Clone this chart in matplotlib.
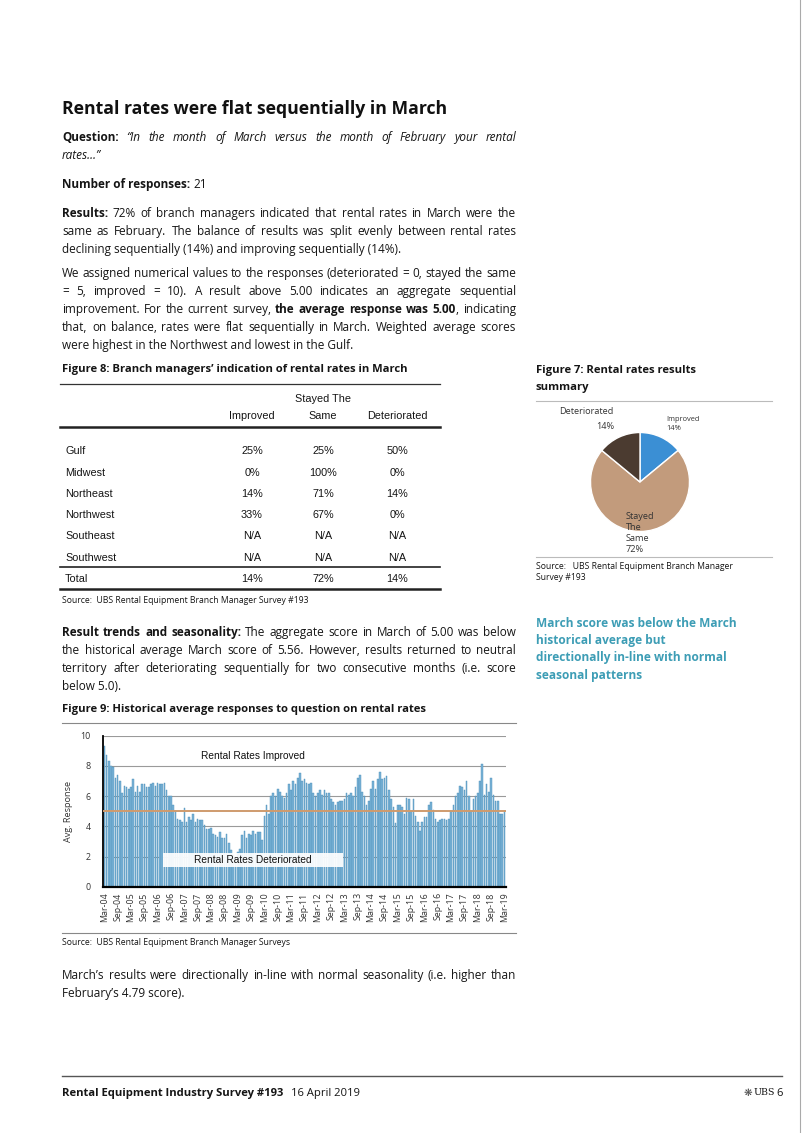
import numpy as np
import matplotlib
matplotlib.use('Agg')
import matplotlib.pyplot as plt
from matplotlib import font_manager

# ---- data ----
scores = [
    9.3, 8.7, 8.3, 8.0, 7.9, 7.2,   # Mar-04
    7.4, 7.0, 6.2, 6.7, 6.6, 6.5,   # Sep-04
    6.6, 7.1, 6.3, 6.7, 6.3, 6.8,   # Mar-05
    6.8, 6.6, 6.6, 6.8, 6.9, 6.7,   # Sep-05
    6.9, 6.8, 6.8, 6.9, 6.4, 6.0,   # Mar-06
    6.0, 5.4, 5.0, 4.5, 4.4, 4.3,   # Sep-06
    5.2, 4.3, 4.6, 4.4, 4.8, 4.3,   # Mar-07
    4.5, 4.4, 4.4, 4.1, 3.8, 3.8,   # Sep-07
    3.9, 3.5, 3.4, 3.3, 3.6, 3.2,   # Mar-08
    3.2, 3.5, 2.9, 2.4, 2.1, 2.0,   # Sep-08
    2.3, 2.5, 3.4, 3.7, 3.2, 3.5,   # Mar-09
    3.4, 3.7, 3.5, 3.6, 3.6, 3.1,   # Sep-09
    4.7, 5.4, 4.8, 6.0, 6.2, 6.0,   # Mar-10
    6.5, 6.3, 6.0, 5.9, 6.2, 6.8,   # Sep-10
    6.4, 7.0, 6.8, 7.2, 7.5, 7.0,   # Mar-11
    7.1, 6.9, 6.8, 6.9, 6.2, 6.0,   # Sep-11
    6.2, 6.4, 6.1, 6.4, 6.2, 6.2,   # Mar-12
    5.8, 5.6, 5.4, 5.6, 5.7, 5.7,   # Sep-12
    5.8, 6.2, 6.1, 6.2, 6.0, 6.6,   # Mar-13
    7.2, 7.4, 6.3, 6.0, 5.4, 5.7,   # Sep-13
    6.5, 7.0, 6.5, 7.1, 7.6, 7.1,   # Mar-14
    7.2, 7.3, 6.4, 5.8, 5.3, 4.2,   # Sep-14
    5.4, 5.4, 5.3, 4.8, 5.9, 5.8,   # Mar-15
    5.0, 5.8, 4.7, 4.3, 3.7, 4.3,   # Sep-15
    4.6, 4.6, 5.4, 5.6, 5.1, 4.5,   # Mar-16
    4.3, 4.4, 4.5, 4.5, 4.4, 4.5,   # Sep-16
    5.0, 5.4, 6.0, 6.2, 6.7, 6.6,   # Mar-17
    6.4, 7.0, 6.0, 5.0, 5.8, 6.0,   # Sep-17
    6.2, 7.0, 8.1, 6.1, 6.8, 6.3,   # Mar-18
    7.2, 6.1, 5.7, 5.7, 4.8, 4.8,   # Sep-18
    5.0,                            # Mar-19
]
neutral = 5.0
tick_labels = []
for yr in range(4, 20):
    tick_labels.append('Mar-%02d' % yr)
    if yr < 19:
        tick_labels.append('Sep-%02d' % yr)

pie_labels = ['Improved', 'Stayed The Same', 'Deteriorated']
pie_vals = [14, 72, 14]
pie_colors = ['#3b8fd4', '#c29b7c', '#4b3b30']

regions = ['Gulf', 'Midwest', 'Northeast', 'Northwest', 'Southeast', 'Southwest']
improved = ['25%', '0%', '14%', '33%', 'N/A', 'N/A']
same = ['25%', '100%', '71%', '67%', 'N/A', 'N/A']
deteriorated = ['50%', '0%', '14%', '0%', 'N/A', 'N/A']
totals = ['14%', '72%', '14%']

# ---- page ----
W, H = 802, 1133
fig = plt.figure(figsize=(W / 100, H / 100), dpi=100)
R = fig.canvas.get_renderer()

BODY = ['Open Sans', 'DejaVu Sans']
names = {f.name for f in font_manager.fontManager.ttflist}
if 'Liberation Sans Narrow' in names:
    TAB, tab_size = ['Liberation Sans Narrow', 'DejaVu Sans'], 8.6
else:
    TAB, tab_size = ['Liberation Sans', 'DejaVu Sans'], 7.8
ARIAL = ['Liberation Sans', 'DejaVu Sans']
INK = '#151515'
BS = 8.5   # body size


def fx(x):
    return x / W


def fy(y):
    return 1 - y / H


def txt(x, y, s, size=BS, weight='normal', ha='left', color=INK, family=BODY, **kw):
    # y is the visual middle of the line; place on a common baseline
    base = y + 0.36 * size * 100 / 72
    return fig.text(fx(x), fy(base), s, fontsize=size, fontweight=weight, ha=ha,
                    va='baseline', color=color, family=family, **kw)


def hline(y, x0, x1, lw=0.8, color='#555555'):
    fig.add_artist(plt.Line2D([fx(x0), fx(x1)], [fy(y), fy(y)], lw=lw, color=color))


def adv(t):
    # advance width, bar trick so side bearings count
    prop = t.get_fontproperties()
    s = t.get_text()
    a = R.get_text_width_height_descent('|' + s + '|', prop, ismath=False)[0]
    b = R.get_text_width_height_descent('||', prop, ismath=False)[0]
    return a - b


def sty(st):
    return dict(weight='bold' if 'b' in st else 'normal',
                fontstyle='italic' if 'i' in st else 'normal')


def para(y, segs, justify=True, x0=62, x1=516, size=BS, color=INK):
    # segs: list of (text, style) with style containing 'b' / 'i'
    if not justify:
        x = x0
        for s, st in segs:
            t = txt(x, y, s, size=size, color=color, **sty(st))
            x += adv(t)
        return
    words = []
    prev_space = True
    for s, st in segs:
        parts = s.split(' ')
        for k, p in enumerate(parts):
            if p == '':
                continue
            t = txt(0, y, p, size=size, color=color, **sty(st))
            if k == 0 and words and not prev_space:
                words[-1].append(t)
            else:
                words.append([t])
        prev_space = s.endswith(' ')
    widths = [[adv(t) for t in w] for w in words]
    total = sum(sum(w) for w in widths)
    gap = (x1 - x0 - total) / (len(words) - 1)
    x = x0
    for w, ws in zip(words, widths):
        for t, tw in zip(w, ws):
            t.set_x(fx(x))
            x += tw
        x += gap


# title + text
txt(62, 108, 'Rental rates were flat sequentially in March', size=12.7, weight='bold', color='#111111')
para(137, [('Question: ', 'b'), ('“In the month of March versus the month of February your rental', 'i')])
para(155, [('rates…”', 'i')], justify=False)
para(184, [('Number of responses: ', 'b'), ('21', '')], justify=False)
para(213, [('Results: ', 'b'), ('72% of branch managers indicated that rental rates in March were the', '')])
para(231, [('same as February. The balance of results was split evenly between rental rates', '')])
para(249, [('declining sequentially (14%) and improving sequentially (14%).', '')], justify=False)
para(273, [('We assigned numerical values to the responses (deteriorated = 0, stayed the same', '')])
para(291, [('= 5, improved = 10). A result above 5.00 indicates an aggregate sequential', '')])
para(309, [('improvement. For the current survey, ', ''), ('the average response was 5.00', 'b'), (', indicating', '')])
para(327, [('that, on balance, rates were flat sequentially in March. Weighted average scores', '')])
para(345, [('were highest in the Northwest and lowest in the Gulf.', '')], justify=False)

# ---- Figure 8 table ----
txt(62, 368, 'Figure 8: Branch managers’ indication of rental rates in March', size=8.1, weight='bold')
hline(384, 60, 440, lw=0.9, color='#333333')
cols = [252, 323, 397]
txt(cols[1], 398, 'Stayed The', size=tab_size, ha='center', family=TAB)
for cx, h in zip(cols, ['Improved', 'Same', 'Deteriorated']):
    txt(cx, 415, h, size=tab_size, ha='center', family=TAB)
hline(427, 60, 440, lw=1.8, color='#222222')
row_y = [450, 472, 493, 514, 535, 557]
for i, ry in enumerate(row_y):
    txt(65, ry, regions[i], size=tab_size, family=TAB)
    for cx, v in zip(cols, [improved[i], same[i], deteriorated[i]]):
        txt(cx, ry, v, size=tab_size, ha='center', family=TAB)
hline(567, 60, 440, lw=1.2, color='#222222')
txt(65, 578, 'Total', size=tab_size, family=TAB)
for cx, v in zip(cols, totals):
    txt(cx, 578, v, size=tab_size, ha='center', family=TAB)
hline(589, 60, 440, lw=1.8, color='#222222')
txt(62, 600, 'Source:  UBS Rental Equipment Branch Manager Survey #193', size=6.2)

# ---- Figure 7 pie ----
txt(536, 369, 'Figure 7: Rental rates results', size=8.1, weight='bold')
txt(536, 386, 'summary', size=8.1, weight='bold')
hline(401, 536, 772, lw=0.8, color='#bbbbbb')
pax = fig.add_axes([fx(590), fy(532), 100 / W, 100 / H])
pax.pie(pie_vals, colors=pie_colors, startangle=90, counterclock=False,
        wedgeprops=dict(edgecolor='white', linewidth=1.0))
pax.set_xlim(-1.01, 1.01)
pax.set_ylim(-1.01, 1.01)
pax.set_aspect('equal')
txt(586, 411, 'Deteriorated', size=6.6, ha='center', color='#333333')
txt(605, 426, '14%', size=6.6, ha='center', color='#333333')
txt(666, 418, 'Improved', size=5.4, color='#333333')
txt(666, 427, '14%', size=5.4, color='#333333')
for yy, s in zip([516, 527, 538, 549], ['Stayed', 'The', 'Same', '72%']):
    txt(626, yy, s, size=6.6, color='#333333')
hline(557, 536, 772, lw=0.8, color='#bbbbbb')
txt(536, 566, 'Source:   UBS Rental Equipment Branch Manager', size=6.2)
txt(536, 577, 'Survey #193', size=6.2)

TEAL = '#3d9db5'
for yy, s in zip([623, 640, 657, 675], ['March score was below the March', 'historical average but',
                                         'directionally in-line with normal', 'seasonal patterns']):
    txt(536, yy, s, size=8.6, weight='bold', color=TEAL)

# result trends
para(632, [('Result trends and seasonality: ', 'b'), ('The aggregate score in March of 5.00 was below', '')])
para(650, [('the historical average March score of 5.56. However, results returned to neutral', '')])
para(668, [('territory after deteriorating sequentially for two consecutive months (i.e. score', '')])
para(686, [('below 5.0).', '')], justify=False)

# ---- Figure 9 bar chart ----
txt(62, 708, 'Figure 9: Historical average responses to question on rental rates', size=8.1, weight='bold')
hline(723, 62, 516, lw=0.8, color='#888888')
ax = fig.add_axes([fx(103), fy(886.7), (506 - 103) / W, (886.7 - 735.7) / H])
x = np.arange(len(scores))
ax.bar(x, scores, width=0.72, color='#7ab4d7', edgecolor='#4a8cb7', linewidth=0.3, zorder=2)
ax.axhline(neutral, color='#cf9b6e', lw=1.4, zorder=3)
ax.set_xlim(-0.6, len(scores) - 0.3)
ax.set_ylim(0, 10)
ax.set_yticks([0, 2, 4, 6, 8, 10])
ax.set_yticklabels(['0', '2', '4', '6', '8', '10'], family=BODY, fontsize=6.4, color='#333333')
ax.set_xticks(np.arange(0, len(scores), 6))
ax.set_xticklabels(tick_labels, rotation=90, family=BODY, fontsize=6.4, color='#333333')
ax.tick_params(axis='x', length=0, pad=4)
ax.tick_params(axis='y', length=0, pad=9)
ax.yaxis.grid(True, color='#9a9a9a', lw=0.8, zorder=0)
ax.set_axisbelow(True)
for sp in ['top', 'right']:
    ax.spines[sp].set_visible(False)
ax.spines['left'].set_linewidth(1.3)
ax.spines['bottom'].set_linewidth(1.6)
ax.set_ylabel('Avg. Response', family=BODY, fontsize=6.6, color='#333333', labelpad=5)
ax.text(66.8, 8.65, 'Rental Rates Improved', ha='center', va='center', family=ARIAL,
        fontsize=7.3, color='#111111', zorder=5)
ax.add_patch(plt.Rectangle((26.4, 1.30), 81.0, 0.93, facecolor='white', alpha=0.92,
                           edgecolor='none', zorder=4))
ax.text(66.8, 1.77, 'Rental Rates Deteriorated', ha='center', va='center', family=ARIAL,
        fontsize=7.3, color='#111111', zorder=5)
hline(933, 62, 516, lw=0.8, color='#888888')
txt(62, 942, 'Source:  UBS Rental Equipment Branch Manager Surveys', size=6.2)

para(975, [('March’s results were directionally in-line with normal seasonality (i.e. higher than', '')])
para(993, [('February’s 4.79 score).', '')], justify=False)

# footer
hline(1076, 62, 782, lw=1.0, color='#555555')
t1 = txt(62, 1092, 'Rental Equipment Industry Survey #193', size=8.1, weight='bold')
w1 = t1.get_window_extent(R).width
txt(62 + w1 + 8, 1092, '16 April 2019', size=8.1)
txt(783, 1092, '6', size=8.1, ha='right')
txt(775, 1092, 'UBS', size=6.8, ha='right', family=['DejaVu Serif'])
txt(752, 1092, '❋', size=7.5, ha='right', color='#444444', family=['DejaVu Sans'])

# page border
fig.add_artist(plt.Line2D([fx(800), fx(800)], [0, 1], lw=0.8, color='#aaaaaa'))

fig.savefig('out.png', dpi=100)
